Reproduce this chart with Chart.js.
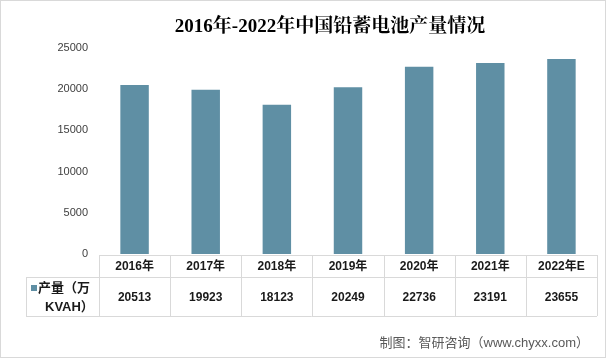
<!DOCTYPE html>
<html><head><meta charset="utf-8">
<script src="https://cdn.jsdelivr.net/npm/chart.js@4.4.0/dist/chart.umd.min.js"></script>
<style>html,body{margin:0;padding:0;background:#fff;}#wrap{width:607px;height:359px;position:relative;}</style>
</head><body><div id="wrap"><canvas id="c" width="607" height="359"></canvas></div>
<script>
const categories = ['2016年','2017年','2018年','2019年','2020年','2021年','2022年E'];
const production = [20513, 19923, 18123, 20249, 22736, 23191, 23655];
const seriesName = ['产量（万', 'KVAH）'];
const titleText = '2016年-2022年中国铅蓄电池产量情况';
const footerText = '制图：智研咨询（www.chyxx.com）';
const barColor = '#5f8fa4';
const lineColor = '#d9d9d9';

const tablePlugin = {
  id: 'tablePlugin',
  afterDraw(chart) {
    const ctx = chart.ctx;
    const xs = chart.scales.x;
    const area = chart.chartArea;
    const n = categories.length;
    const colW = (area.right - area.left) / n;
    const top = area.bottom + 1, mid = top + 22, bot = mid + 39;
    const legL = 26;
    ctx.save();
    ctx.strokeStyle = lineColor; ctx.lineWidth = 1;
    ctx.strokeRect(0.5, 0.5, 605, 357);
    ctx.beginPath();
    ctx.moveTo(area.left, top + 0.5); ctx.lineTo(area.right, top + 0.5);
    ctx.moveTo(legL, mid + 0.5); ctx.lineTo(area.right, mid + 0.5);
    ctx.moveTo(legL, bot + 0.5); ctx.lineTo(area.right, bot + 0.5);
    ctx.moveTo(legL + 0.5, mid); ctx.lineTo(legL + 0.5, bot);
    for (let i = 0; i <= n; i++) {
      const x = Math.round(area.left + i * colW) + 0.5;
      ctx.moveTo(x, top); ctx.lineTo(x, bot);
    }
    ctx.stroke();
    ctx.fillStyle = '#1a1a1a';
    ctx.textAlign = 'center'; ctx.textBaseline = 'middle';
    ctx.font = 'bold 12px "Liberation Sans", "Noto Sans CJK SC", sans-serif';
    for (let i = 0; i < n; i++) {
      const x = xs.getPixelForValue(i);
      ctx.fillText(categories[i], x, (top + mid) / 2 + 1);
      ctx.fillText(String(production[i]), x, (mid + bot) / 2 + 1);
    }
    ctx.fillStyle = barColor;
    ctx.fillRect(31, 285, 6, 6);
    ctx.fillStyle = '#1a1a1a';
    ctx.textAlign = 'left';
    ctx.font = 'bold 13px "Liberation Sans", "Noto Sans CJK SC", sans-serif';
    ctx.fillText(seriesName[0], 38, 288);
    ctx.fillText(seriesName[1], 45, 307);
    ctx.textAlign = 'center';
    ctx.fillStyle = '#000';
    ctx.font = 'bold 19px "Liberation Serif", "Noto Serif CJK SC", "Noto Sans CJK SC", serif';
    ctx.fillText(titleText, 330, 27);
    ctx.textAlign = 'right';
    ctx.fillStyle = '#595959';
    ctx.font = '13px "Liberation Sans", "Noto Sans CJK SC", sans-serif';
    ctx.fillText(footerText, 589, 343);
    ctx.restore();
  }
};

new Chart(document.getElementById('c'), {
  type: 'bar',
  data: {
    labels: categories,
    datasets: [{ label: seriesName.join(''), data: production, backgroundColor: barColor,
      barPercentage: 0.4, categoryPercentage: 1 }]
  },
  options: {
    responsive: false, animation: false,
    layout: { padding: { top: 48, bottom: 105, left: 0, right: 10 } },
    plugins: { legend: { display: false }, title: { display: false }, tooltip: { enabled: false } },
    scales: {
      x: { display: false },
      y: {
        min: 0, max: 25000,
        ticks: { stepSize: 5000, padding: 11, color: '#404040',
          font: { family: '"Liberation Sans", sans-serif', size: 11 },
          callback: (v) => String(v) },
        grid: { display: false, drawTicks: false },
        border: { display: false },
        afterFit(scale) { scale.width = 99; }
      }
    }
  },
  plugins: [tablePlugin]
});
</script></body></html>
